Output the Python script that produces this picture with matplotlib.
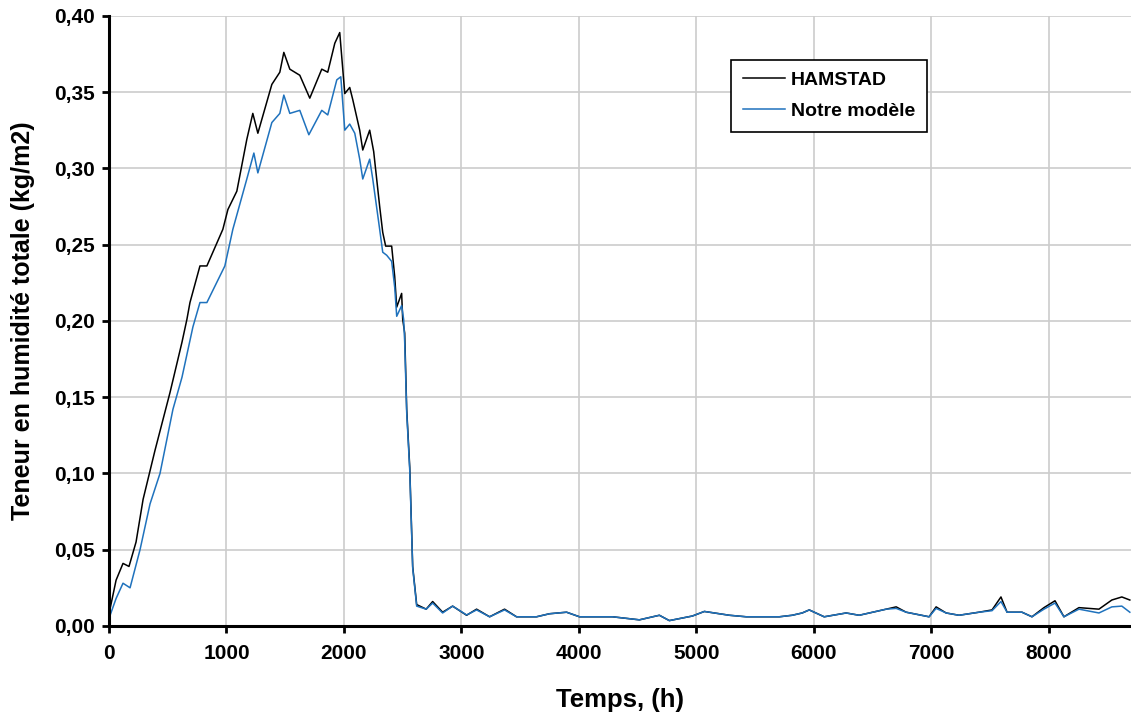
import matplotlib
matplotlib.use('Agg')
import matplotlib.pyplot as plt
from matplotlib.ticker import FuncFormatter

# Values (time in h, moisture in kg/m2)
t_hamstad = [0, 60, 119, 170, 230, 290, 391, 519, 621, 663, 689, 774, 833, 969,
             1012, 1088, 1173, 1224, 1267, 1386, 1454, 1488, 1539, 1624, 1709,
             1811, 1862, 1922, 1964, 2007, 2049, 2075, 2134, 2160, 2219, 2253,
             2304, 2330, 2355, 2406, 2432, 2449, 2491, 2500, 2517, 2534, 2560,
             2585, 2619, 2700, 2755, 2840, 2925, 3044, 3129, 3240, 3367, 3469,
             3639, 3750, 3895, 4005, 4286, 4515, 4685, 4770, 4966, 5068, 5281,
             5425, 5536, 5706, 5816, 5901, 5961, 6088, 6275, 6386, 6616, 6701,
             6786, 6981, 7041, 7126, 7236, 7406, 7517, 7593, 7645, 7772, 7857,
             7959, 8053, 8129, 8257, 8427, 8537, 8622, 8690]
y_hamstad = [0.008, 0.030, 0.041, 0.039, 0.055, 0.083, 0.115, 0.153, 0.186, 0.201,
             0.212, 0.236, 0.236, 0.260, 0.273, 0.285, 0.319, 0.336, 0.323, 0.355,
             0.363, 0.376, 0.365, 0.361, 0.346, 0.365, 0.363, 0.382, 0.389, 0.349,
             0.353, 0.345, 0.325, 0.312, 0.325, 0.311, 0.275, 0.258, 0.249, 0.249,
             0.229, 0.209, 0.218, 0.201, 0.192, 0.142, 0.104, 0.039, 0.014, 0.011,
             0.016, 0.009, 0.013, 0.007, 0.011, 0.006, 0.011, 0.006, 0.006, 0.008,
             0.009, 0.006, 0.006, 0.004, 0.007, 0.0035, 0.0065, 0.0095, 0.007,
             0.006, 0.006, 0.006, 0.007, 0.0085, 0.0105, 0.006, 0.0085, 0.007,
             0.011, 0.0125, 0.009, 0.006, 0.0125, 0.0085, 0.007, 0.009, 0.0105,
             0.019, 0.009, 0.009, 0.006, 0.012, 0.0165, 0.006, 0.012, 0.011, 0.017,
             0.019, 0.017]

t_modele = [0, 60, 119, 179, 264, 349, 434, 544, 621, 714, 774, 833, 986, 1054,
            1173, 1233, 1267, 1386, 1454, 1488, 1539, 1624, 1701, 1811, 1862,
            1939, 1973, 2007, 2049, 2092, 2134, 2160, 2219, 2245, 2304, 2330,
            2364, 2406, 2432, 2449, 2491, 2508, 2517, 2534, 2560, 2585, 2619,
            2700, 2755, 2840, 2925, 3044, 3129, 3240, 3367, 3469, 3639, 3750,
            3895, 4005, 4286, 4515, 4685, 4770, 4966, 5068, 5281, 5425, 5536,
            5706, 5816, 5901, 5961, 6088, 6275, 6386, 6616, 6701, 6786, 6981,
            7041, 7126, 7236, 7406, 7517, 7593, 7645, 7772, 7857, 7959, 8053,
            8129, 8257, 8427, 8537, 8622, 8690]
y_modele = [0.005, 0.018, 0.028, 0.025, 0.050, 0.080, 0.100, 0.142, 0.163, 0.196,
            0.212, 0.212, 0.236, 0.260, 0.293, 0.310, 0.297, 0.330, 0.336, 0.348,
            0.336, 0.338, 0.322, 0.338, 0.335, 0.358, 0.360, 0.325, 0.329, 0.323,
            0.306, 0.293, 0.306, 0.293, 0.260, 0.245, 0.243, 0.239, 0.222, 0.203,
            0.210, 0.201, 0.186, 0.140, 0.102, 0.038, 0.013, 0.011, 0.015, 0.0085,
            0.013, 0.0072, 0.0105, 0.006, 0.0105, 0.006, 0.006, 0.008, 0.009,
            0.006, 0.006, 0.004, 0.007, 0.0035, 0.0065, 0.0095, 0.007, 0.006,
            0.006, 0.006, 0.007, 0.0085, 0.0105, 0.006, 0.0085, 0.007, 0.011,
            0.0115, 0.009, 0.006, 0.0115, 0.0085, 0.007, 0.009, 0.0100, 0.016,
            0.009, 0.009, 0.006, 0.011, 0.015, 0.006, 0.011, 0.0085, 0.0125,
            0.013, 0.009]

x_ticks = [0, 1000, 2000, 3000, 4000, 5000, 6000, 7000, 8000]
y_ticks = [0.0, 0.05, 0.10, 0.15, 0.20, 0.25, 0.30, 0.35, 0.40]

plt.rcParams['font.family'] = ['Liberation Sans', 'DejaVu Sans']
plt.rcParams['font.weight'] = 'bold'

fig = plt.figure(figsize=(11.31, 7.17), dpi=100)
ax = fig.add_axes([0.0964, 0.127, 0.9036, 0.851])

ax.plot(t_hamstad, y_hamstad, color='black', linewidth=1.1, label='HAMSTAD')
ax.plot(t_modele, y_modele, color='#1f72bd', linewidth=1.1, label='Notre modèle')

ax.set_xlim(0, 8700)
ax.set_ylim(0, 0.40)
ax.set_xticks(x_ticks)
ax.set_yticks(y_ticks)
ax.yaxis.set_major_formatter(FuncFormatter(lambda v, p: f'{v:.2f}'.replace('.', ',')))
ax.grid(True, color='#cccccc', linewidth=1.2)
ax.set_axisbelow(True)

for s in ['top', 'right']:
    ax.spines[s].set_visible(False)
for s in ['left', 'bottom']:
    ax.spines[s].set_linewidth(2.2)
ax.tick_params(axis='both', direction='out', length=5, width=2, labelsize=15, pad=5)
ax.tick_params(axis='x', pad=8)

ax.set_xlabel('Temps, (h)', fontsize=18.5, fontweight='bold', labelpad=18)
ax.set_ylabel('Teneur en humidité totale (kg/m2)', fontsize=18, fontweight='bold', labelpad=14)

leg = ax.legend(loc='upper left', bbox_to_anchor=(0.599, 0.944), fontsize=14,
                fancybox=False, edgecolor='black', framealpha=1, handlelength=2.2,
                borderpad=0.6, labelspacing=0.7, handletextpad=0.3)
leg.get_frame().set_linewidth(1.2)

fig.savefig('out.png', dpi=100)
